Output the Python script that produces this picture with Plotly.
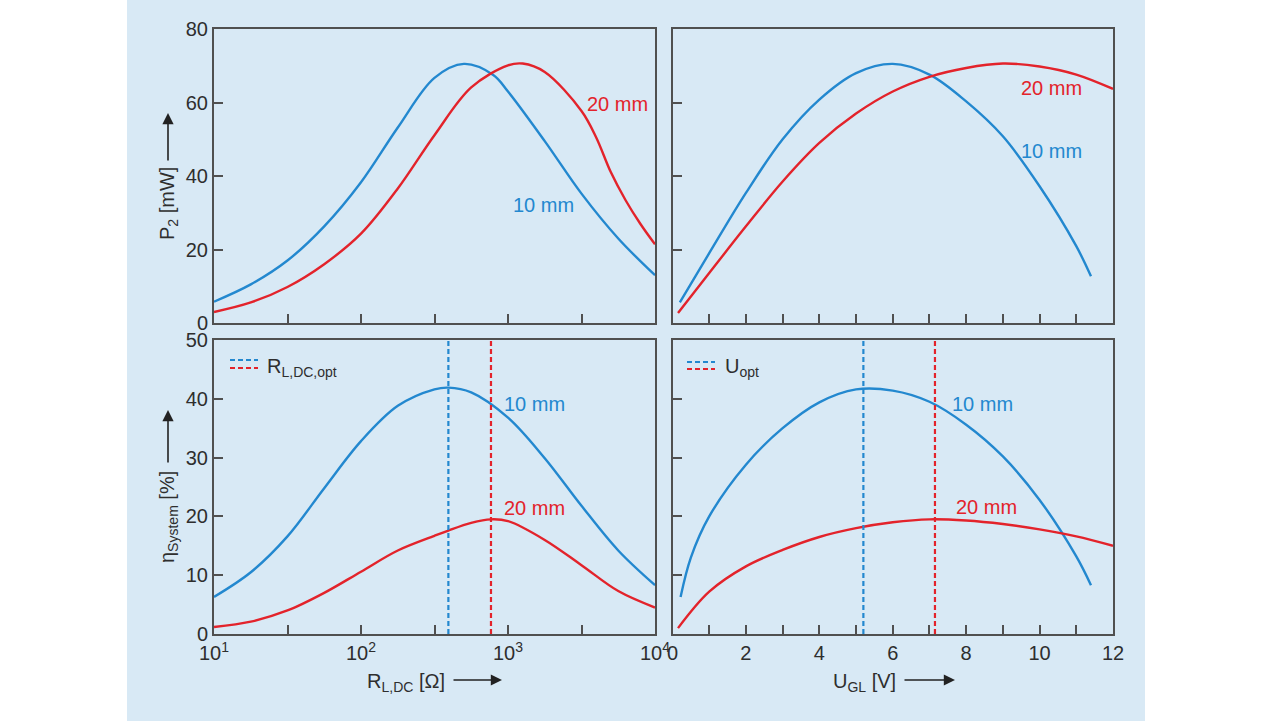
import plotly.graph_objects as go

# ---------------- data ----------------
# Top-left: P2 [mW] vs R_L,DC [Ohm] (log axis)
tl_r_10mm = [10, 17.8, 31.6, 56.2, 100, 178, 316, 501, 794, 1000, 1778, 3162, 5623, 10000]
tl_p2_10mm = [5.8, 10.5, 17.0, 26.3, 38.3, 53.2, 66.7, 70.5, 67.5, 63.0, 49.5, 35.2, 23.0, 13.0]
tl_r_20mm = [10, 17.8, 31.6, 56.2, 100, 178, 316, 562, 1000, 1259, 1778, 3162, 3981, 5012,
             6310, 7943, 10000]
tl_p2_20mm = [3.0, 5.6, 9.8, 16.0, 24.3, 36.6, 51.1, 64.1, 70.1, 70.6, 68.3, 57.7, 50.5, 41.0,
              33.4, 27.0, 21.4]

# Top-right: P2 [mW] vs U_GL [V]
tr_u_10mm = [0.2, 1, 2, 3, 4, 5, 6, 7, 8, 9, 10, 11, 11.4]
tr_p2_10mm = [5.6, 19.0, 35.4, 50.0, 60.8, 68.0, 70.5, 67.6, 60.3, 50.8, 37.2, 20.9, 12.7]
tr_u_20mm = [0.15, 1, 2, 3, 4, 5, 6, 7, 8, 9, 10, 11, 12]
tr_p2_20mm = [2.7, 13.6, 26.3, 38.5, 49.0, 57.0, 63.0, 67.0, 69.4, 70.6, 69.8, 67.6, 63.7]

# Bottom-left: eta_System [%] vs R_L,DC [Ohm]
bl_r_10mm = [10, 17.8, 31.6, 56.2, 100, 178, 316, 393, 562, 1000, 1778, 3162, 5623, 10000]
bl_eta_10mm = [6.3, 10.5, 16.6, 24.8, 32.8, 38.8, 41.6, 41.9, 41.1, 36.8, 29.9, 21.8, 14.2, 8.3]
bl_r_20mm = [10, 17.8, 31.6, 56.2, 100, 178, 316, 393, 562, 766, 1000, 1778, 3162, 5623, 10000]
bl_eta_20mm = [1.2, 2.1, 4.0, 7.0, 10.6, 14.2, 16.7, 17.6, 18.9, 19.5, 19.2, 16.0, 11.7, 7.3, 4.5]
r_opt = [393, 766]          # 10 mm, 20 mm

# Bottom-right: eta_System [%] vs U_GL [V]
br_u_10mm = [0.22, 0.5, 1, 2, 3, 4, 5, 6, 7, 8, 9, 10, 11, 11.4]
br_eta_10mm = [6.3, 13.0, 20.0, 28.8, 35.0, 39.4, 41.6, 41.4, 39.5, 35.6, 30.2, 22.8, 13.2, 8.3]
br_u_20mm = [0.15, 1, 2, 3, 4, 5, 6, 7, 8, 9, 10, 11, 12]
br_eta_20mm = [1.0, 7.2, 11.5, 14.3, 16.5, 18.0, 19.0, 19.5, 19.3, 18.7, 17.8, 16.6, 15.0]
u_opt = [5.2, 7.15]

series_labels = ["10 mm", "20 mm"]
x_log_ticks = [10, 10**1.5, 100, 10**2.5, 1000, 10**3.5, 10000]
x_log_text = ["10<sup>1</sup>", " ", "10<sup>2</sup>", " ", "10<sup>3</sup>", " ", "10<sup>4</sup>"]
u_ticks = list(range(0, 13))
u_text = [str(v) if v % 2 == 0 else " " for v in u_ticks]
p2_ticks = [0, 20, 40, 60, 80]
eta_ticks = [0, 10, 20, 30, 40, 50]

# ---------------- style ----------------
W, H = 1280, 721
BLUE = "#2388cf"
RED = "#e3232b"
AX = "#505050"
TXT = "#2e2e2e"
FONT = "Liberation Sans, Arial, sans-serif"
FS = 20

def px(x):
    return x / W

def py(y):
    return 1 - y / H

fig = go.Figure()

def add_curve(xs, ys, color, xa, ya):
    fig.add_trace(go.Scatter(x=xs, y=ys, mode="lines",
                             line=dict(color=color, width=2.4, shape="spline", smoothing=1.0),
                             xaxis=xa, yaxis=ya, showlegend=False, hoverinfo="skip"))

add_curve(tl_r_10mm, tl_p2_10mm, BLUE, "x", "y")
add_curve(tl_r_20mm, tl_p2_20mm, RED, "x", "y")
add_curve(tr_u_10mm, tr_p2_10mm, BLUE, "x2", "y2")
add_curve(tr_u_20mm, tr_p2_20mm, RED, "x2", "y2")
add_curve(bl_r_10mm, bl_eta_10mm, BLUE, "x3", "y3")
add_curve(bl_r_20mm, bl_eta_20mm, RED, "x3", "y3")
add_curve(br_u_10mm, br_eta_10mm, BLUE, "x4", "y4")
add_curve(br_u_20mm, br_eta_20mm, RED, "x4", "y4")

# optimum dashed lines
for xa, ya, opts in (("x3", "y3", r_opt), ("x4", "y4", u_opt)):
    for v, c in zip(opts, (BLUE, RED)):
        fig.add_trace(go.Scatter(x=[v, v], y=[0, 50], mode="lines",
                                 line=dict(color=c, width=2.2, dash="5px,3px"),
                                 xaxis=xa, yaxis=ya, showlegend=False, hoverinfo="skip"))

# axes geometry (pixels)
L1, R1, L2, R2 = 214, 655, 672.5, 1113
T1, B1, T2, B2 = 29, 323, 340, 634

common = dict(showline=True, mirror=True, linecolor=AX, linewidth=2, ticks="inside",
              ticklen=9, tickwidth=1.5, tickcolor=AX, showgrid=False, zeroline=False,
              automargin=False, tickfont=dict(family=FONT, size=FS, color=TXT))

fig.update_layout(
    width=W, height=H, margin=dict(l=0, r=0, t=0, b=0, pad=0, autoexpand=False),
    paper_bgcolor="white", plot_bgcolor="white",
    xaxis=dict(domain=[px(L1), px(R1)], type="log", range=[1, 4], tickvals=x_log_ticks,
               showticklabels=False, anchor="y", **common),
    yaxis=dict(domain=[py(B1), py(T1)], range=[0, 80], tickvals=p2_ticks, anchor="x",
               ticklabelstandoff=0, **common),
    xaxis2=dict(domain=[px(L2), px(R2)], range=[0, 12], tickvals=u_ticks,
                showticklabels=False, anchor="y2", **common),
    yaxis2=dict(domain=[py(B1), py(T1)], range=[0, 80], tickvals=p2_ticks,
                showticklabels=False, anchor="x2", **common),
    xaxis3=dict(domain=[px(L1), px(R1)], type="log", range=[1, 4], tickvals=x_log_ticks,
                ticktext=x_log_text, anchor="y3", **common),
    yaxis3=dict(domain=[py(B2), py(T2)], range=[0, 50], tickvals=eta_ticks, anchor="x3",
                ticklabelstandoff=0, **common),
    xaxis4=dict(domain=[px(L2), px(R2)], range=[0, 12], tickvals=u_ticks,
                ticktext=u_text, anchor="y4", **common),
    yaxis4=dict(domain=[py(B2), py(T2)], range=[0, 50], tickvals=eta_ticks,
                showticklabels=False, anchor="x4", **common),
)

# light blue backdrop panel
fig.add_shape(type="rect", xref="paper", yref="paper", x0=px(127), x1=px(1145), y0=0, y1=1,
              fillcolor="#d8e9f5", line=dict(width=0), layer="below")

def label(text, x, y, color, xanchor="center", size=FS, angle=0):
    fig.add_annotation(text=text, x=px(x), y=py(y), xref="paper", yref="paper",
                       showarrow=False, xanchor=xanchor, yanchor="middle", textangle=angle,
                       font=dict(family=FONT, size=size, color=color))

# curve labels
label(series_labels[1], 617, 104, RED)
label(series_labels[0], 543, 205, BLUE)
label(series_labels[1], 1051, 88, RED)
label(series_labels[0], 1051, 151, BLUE)
label(series_labels[0], 534, 404, BLUE)
label(series_labels[1], 534, 508, RED)
label(series_labels[0], 982, 404, BLUE)
label(series_labels[1], 986, 507, RED)

# legends for dashed lines
for (x0, x1, yb, yr, txt, tx) in ((230, 258, 360, 368, "R<sub>L,DC,opt</sub>", 265),
                                  (687, 715, 362, 369, "U<sub>opt</sub>", 723)):
    fig.add_shape(type="line", xref="paper", yref="paper", x0=px(x0), x1=px(x1), y0=py(yb), y1=py(yb),
                  line=dict(color=BLUE, width=2.2, dash="5px,3px"))
    fig.add_shape(type="line", xref="paper", yref="paper", x0=px(x0), x1=px(x1), y0=py(yr), y1=py(yr),
                  line=dict(color=RED, width=2.2, dash="5px,3px"))
    label(txt, tx, 367, TXT, xanchor="left")

# axis titles
label("P<sub>2</sub> [mW]", 168, 204, TXT, angle=-90)
label("η<sub>System</sub> [%]", 168, 517, TXT, angle=-90)
label("R<sub>L,DC</sub> [Ω]", 406, 682, TXT)
label("U<sub>GL</sub> [V]", 864, 682, TXT)

def arrow(x_tail, y_tail, x_head, y_head):
    fig.add_annotation(x=px(x_head), y=py(y_head), ax=x_tail - x_head, ay=y_tail - y_head,
                       xref="paper", yref="paper", axref="pixel", ayref="pixel",
                       text="", showarrow=True, arrowhead=2, arrowsize=1.4, arrowwidth=1.6,
                       arrowcolor="#222222")

arrow(168, 162, 168, 113)
arrow(168, 464, 168, 410)
arrow(452, 680, 502, 680)
arrow(903, 680, 955, 680)

fig.write_html("out.html", config={"displayModeBar": False},
               post_script="document.body.style.margin='0';document.body.style.overflow='hidden';")
